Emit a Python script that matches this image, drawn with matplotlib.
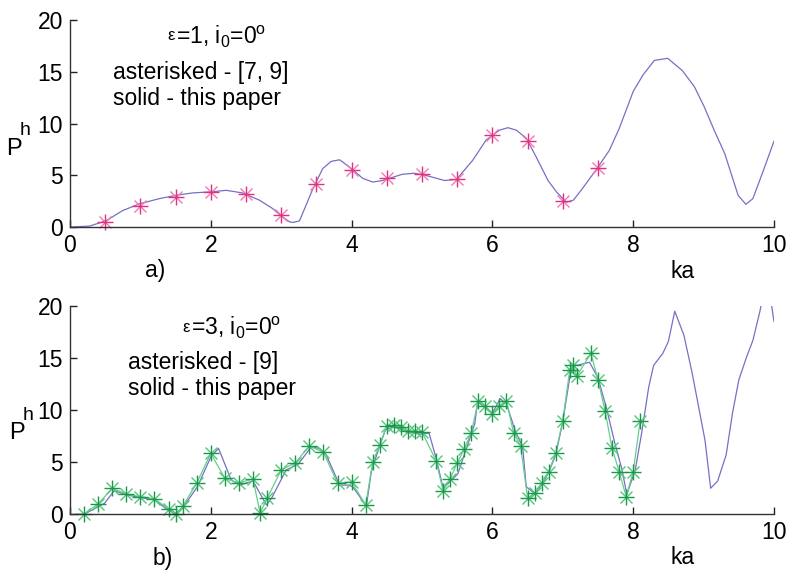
import numpy as np
import matplotlib
matplotlib.use("Agg")
import matplotlib.pyplot as plt

plt.rcParams["font.family"] = ["Liberation Sans", "DejaVu Sans"]
plt.rcParams["mathtext.fontset"] = "custom"
plt.rcParams["mathtext.rm"] = "Liberation Sans"
plt.rcParams["mathtext.it"] = "Liberation Sans"

# panel a): eps = 1
ka_a = [0.0, 0.28, 0.51, 0.75, 0.99, 1.27, 1.51, 1.74, 2.0, 2.22, 2.45, 2.69, 2.88,
        3.02, 3.12, 3.17, 3.26, 3.45, 3.59, 3.71, 3.83, 3.97, 4.16, 4.3, 4.44, 4.58,
        4.72, 4.89, 5.05, 5.24, 5.32, 5.49, 5.72, 5.91, 6.1, 6.22, 6.34, 6.48, 6.62,
        6.79, 6.91, 7.05, 7.15, 7.26, 7.47, 7.66, 7.8, 8.0, 8.14, 8.3, 8.49, 8.7,
        8.87, 9.01, 9.15, 9.3, 9.49, 9.6, 9.7, 9.84, 10.0]
ph_a = [0.0, 0.1, 0.6, 1.6, 2.25, 2.75, 3.07, 3.3, 3.4, 3.55, 3.3, 2.6, 1.78,
        0.97, 0.5, 0.45, 0.6, 3.7, 5.65, 6.35, 6.5, 5.8, 4.7, 4.35, 4.5, 4.8,
        5.1, 5.2, 5.0, 4.65, 4.5, 4.6, 6.45, 8.4, 9.36, 9.6, 9.36, 8.6, 6.8,
        4.5, 3.4, 2.4, 2.6, 3.55, 5.5, 7.4, 9.5, 13.1, 14.7, 16.1, 16.3, 15.1,
        13.55, 11.6, 9.36, 7.1, 3.07, 2.2, 2.75, 5.3, 8.3]
ka_ref_a = [0.5, 1.0, 1.5, 2.0, 2.5, 3.0, 3.5, 4.0, 4.5, 5.0, 5.5, 6.0, 6.5, 7.0, 7.5]
ph_ref_a = [0.5, 2.0, 2.9, 3.4, 3.2, 1.2, 4.2, 5.55, 4.7, 5.1, 4.6, 8.9, 8.3, 2.5, 5.75]

# panel b): eps = 3
ka_b = [0.085, 0.2, 0.49, 0.63, 0.81, 1.01, 1.2, 1.41, 1.5, 1.6, 1.81, 2.0, 2.11,
        2.29, 2.41, 2.6, 2.79, 2.86, 3.07, 3.24, 3.43, 3.55, 3.64, 3.83, 3.97, 4.02,
        4.21, 4.28, 4.39, 4.48, 4.6, 4.77, 4.96, 5.1, 5.2, 5.3, 5.38, 5.51, 5.63,
        5.75, 5.79, 5.9, 6.0, 6.11, 6.2, 6.33, 6.43, 6.48, 6.6, 6.72, 6.81, 6.9,
        7.0, 7.1, 7.14, 7.26, 7.38, 7.5, 7.62, 7.74, 7.84, 7.91, 8.03, 8.12, 8.22,
        8.29, 8.42, 8.5, 8.59, 8.72, 8.83, 8.92, 9.02, 9.1, 9.2, 9.32, 9.41, 9.5,
        9.61, 9.7, 9.8, 9.9, 10.0]
ph_b = [0.0, 0.0, 1.05, 2.27, 1.85, 1.6, 1.4, 0.3, 0.1, 0.6, 2.65, 5.5, 6.33,
        3.3, 2.8, 3.2, 0.9, 1.5, 4.25, 4.8, 6.5, 6.3, 5.7, 2.8, 2.8, 2.6,
        0.8, 4.1, 6.4, 8.1, 8.4, 8.0, 7.7, 7.8, 5.4, 2.5, 3.0, 3.9, 6.3,
        8.7, 10.8, 10.2, 9.7, 11.1, 10.6, 7.9, 6.5, 2.65, 2.0, 3.0, 4.2, 5.7,
        8.9, 13.2, 14.2, 14.4, 14.6, 13.1, 10.2, 6.8, 4.3, 1.9, 4.3, 7.8, 12.2,
        14.3, 15.45, 16.6, 19.5, 17.2, 13.8, 10.65, 7.1, 2.5, 3.2, 5.7, 9.7, 12.9,
        15.1, 16.7, 19.5, 23.0, 18.5]
ka_ref_b = [0.2, 0.4, 0.6, 0.8, 1.0, 1.2, 1.4, 1.5, 1.6, 1.8, 2.0, 2.2, 2.4, 2.6,
            2.7, 2.8, 3.0, 3.2, 3.4, 3.6, 3.8, 4.0, 4.2, 4.3, 4.4, 4.5, 4.6, 4.7,
            4.8, 4.9, 5.0, 5.2, 5.3, 5.4, 5.5, 5.6, 5.7, 5.8, 5.9, 6.0, 6.1, 6.2,
            6.3, 6.4, 6.5, 6.6, 6.7, 6.8, 6.9, 7.0, 7.1, 7.15, 7.2, 7.4, 7.5, 7.6,
            7.7, 7.8, 7.9, 8.0, 8.1]
ph_ref_b = [0.0, 1.0, 2.5, 1.95, 1.7, 1.5, 0.5, 0.0, 0.75, 3.0, 5.85, 3.45, 3.0, 3.4,
            0.1, 1.55, 4.25, 4.95, 6.55, 5.95, 3.0, 3.1, 0.9, 5.0, 6.7, 8.45, 8.55, 8.4,
            7.95, 8.0, 7.9, 5.15, 2.25, 3.4, 4.95, 6.25, 7.85, 10.9, 10.4, 9.6, 10.4, 10.9,
            7.85, 6.6, 1.55, 2.0, 3.0, 4.1, 5.9, 9.0, 13.9, 14.3, 13.3, 15.45, 12.9, 9.95,
            6.35, 4.1, 1.7, 4.1, 9.0]

xticks = [0, 2, 4, 6, 8, 10]
yticks = [0, 5, 10, 15, 20]

LINE = "#7a6ec4"
FS = 16.5


def style_axes(ax):
    ax.set_xlim(0, 10)
    ax.set_ylim(0, 20)
    ax.set_xticks(xticks)
    ax.set_yticks(yticks)
    ax.spines["top"].set_visible(False)
    ax.spines["right"].set_visible(False)
    for s in ("left", "bottom"):
        ax.spines[s].set_color("#333333")
        ax.spines[s].set_linewidth(1.0)
    ax.tick_params(direction="in", length=5, width=1, color="#222222",
                   labelsize=FS, pad=5)
    ax.patch.set_alpha(0)


def asterisks(ax, x, y, dark, light, ms=12):
    ax.plot(x, y, ls="none", marker="x", ms=ms * 0.7, mew=1.0, color=light, clip_on=False)
    ax.plot(x, y, ls="none", marker="+", ms=ms, mew=1.0, color=dark, clip_on=False)


fig = plt.figure(figsize=(7.89, 5.72), dpi=100)

ax1 = fig.add_axes([0.0887, 0.603, 0.8923, 0.362])
ax1.plot(ka_a, ph_a, color=LINE, lw=0.9)
asterisks(ax1, ka_ref_a, ph_ref_a, "#e0307f", "#f27ab0")
style_axes(ax1)

ax2 = fig.add_axes([0.0887, 0.1009, 0.8923, 0.3641])
ax2.plot(ka_b, ph_b, color=LINE, lw=0.9)
ax2.plot(ka_ref_b, ph_ref_b, color="#62d08c", lw=0.9)
asterisks(ax2, ka_ref_b, ph_ref_b, "#17994a", "#58c47e")
style_axes(ax2)

# annotations (figure pixel positions, origin at the top)
W, H = 789, 572
def ftext(x, y, s, fs=FS, **kw):
    fig.text(x / W, 1 - y / H, s, fontsize=fs, **kw)

ftext(167, 36, "ε", fs=12, ha="left", va="center")
ftext(176, 37, r"=1, i$_0$=0$^\mathregular{o}$", ha="left", va="center")
ftext(113, 73, "asterisked - [7, 9]", ha="left", va="center")
ftext(113, 98, "solid - this paper", ha="left", va="center")
ftext(182, 327, "ε", fs=12, ha="left", va="center")
ftext(191, 328, r"=3, i$_0$=0$^\mathregular{o}$", ha="left", va="center")
ftext(128, 363, "asterisked - [9]", ha="left", va="center")
ftext(128, 389, "solid - this paper", ha="left", va="center")

ftext(14, 149, "P", fs=17, ha="center", va="center")
ftext(25, 131, "h", fs=14, ha="center", va="center")
ftext(17, 433, "P", fs=17, ha="center", va="center")
ftext(28, 415, "h", fs=14, ha="center", va="center")
ftext(683, 271, "ka", ha="center", va="center")
ftext(683, 558, "ka", ha="center", va="center")
ftext(155, 271, "a)", ha="center", va="center")
ftext(163, 558, "b)", ha="center", va="center")

fig.savefig("out.png", dpi=100)
